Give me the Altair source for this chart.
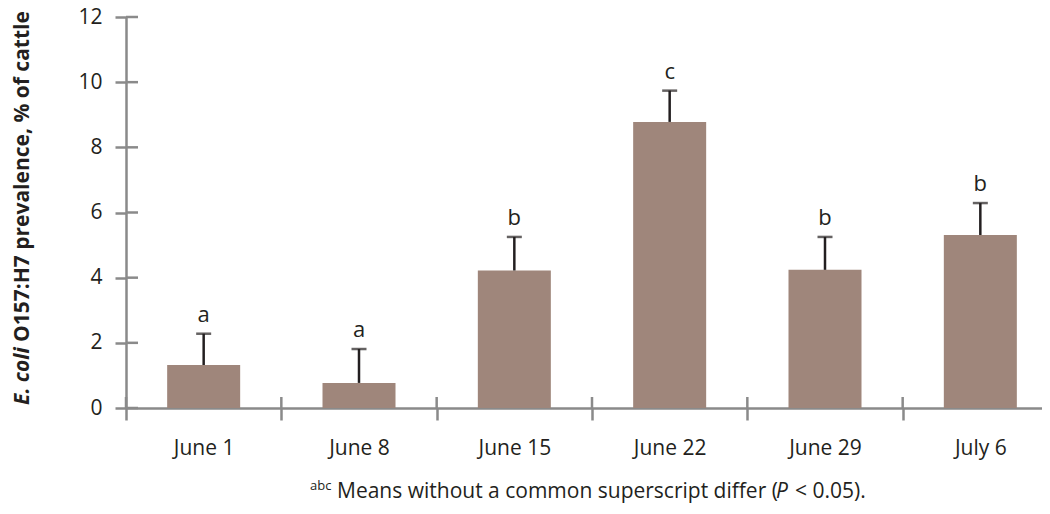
import altair as alt
import pandas as pd

dates = ["June 1", "June 8", "June 15", "June 22", "June 29", "July 6"]
prevalence = [1.32, 0.77, 4.22, 8.78, 4.24, 5.31]
upper = [2.28, 1.81, 5.25, 9.74, 5.25, 6.29]
letters = ["a", "a", "b", "c", "b", "b"]
yticks = [0, 2, 4, 6, 8, 10, 12]

FONT = "Open Sans"
TXT = "#231f20"
AX = "#8a8a8a"
BAR = "#9f867b"

df = pd.DataFrame({"date": dates, "prev": prevalence, "up": upper, "let": letters})
tick_df = pd.DataFrame({"v": yticks})

xscale = alt.Scale(domain=dates, range=[0, 932], paddingInner=0, paddingOuter=0)
yscale = alt.Scale(domain=[0, 12], nice=False)

base = alt.Chart(df)

bars = base.mark_bar(color=BAR, width=alt.RelativeBandSize(0.47)).encode(
    x=alt.X("date:N", sort=dates, scale=xscale,
            axis=alt.Axis(title=None, labelFont=FONT, labelFontSize=21, labelColor=TXT,
                          labelAngle=0, labelPadding=17, tickSize=12, tickWidth=2.5,
                          tickColor=AX, domainColor=AX, domainWidth=2.5, tickBand="extent",
                          grid=False)),
    y=alt.Y("prev:Q", scale=yscale,
            axis=alt.Axis(title=None, values=yticks, labelFont=FONT, labelFontSize=21,
                          labelColor=TXT, labelPadding=13, tickSize=11, tickWidth=2.5,
                          tickColor=AX, domainColor=AX, domainWidth=2.5, grid=False)),
)

err = base.mark_rule(color=TXT, strokeWidth=2.5).encode(
    x=alt.X("date:N", sort=dates), y="prev:Q", y2="up:Q")
caps = base.mark_tick(color=TXT, thickness=2.5, size=15).encode(
    x=alt.X("date:N", sort=dates), y="up:Q")
labs = base.mark_text(font=FONT, fontSize=22, color=TXT, dy=-12, baseline="alphabetic").encode(
    x=alt.X("date:N", sort=dates), y="up:Q", text="let:N")

# upward halves of the x-axis crossing ticks
xt_up = base.mark_rule(color=AX, strokeWidth=2.5).encode(
    x=alt.X("date:N", sort=dates, bandPosition=0), y=alt.value(380), y2=alt.value(391))
# inward halves of the y-axis crossing ticks
yt_in = alt.Chart(tick_df).mark_rule(color=AX, strokeWidth=2.5).encode(
    y="v:Q", x=alt.value(0), x2=alt.value(12))

t1 = alt.Chart(pd.DataFrame({"t": ["E. coli"]})).mark_text(
    font=FONT, fontSize=21, fontWeight="bold", fontStyle="italic", color=TXT,
    angle=270, align="left", baseline="alphabetic").encode(
    x=alt.value(-97), y=alt.value(388), text="t:N")
t2 = alt.Chart(pd.DataFrame({"t": ["O157:H7 prevalence, % of cattle"]})).mark_text(
    font=FONT, fontSize=21, fontWeight="bold", color=TXT,
    angle=270, align="left", baseline="alphabetic").encode(
    x=alt.value(-97), y=alt.value(325), text="t:N")

n1 = alt.Chart(pd.DataFrame({"t": ["abc"]})).mark_text(
    font=FONT, fontSize=13, color=TXT, align="left", baseline="alphabetic").encode(
    x=alt.value(184), y=alt.value(473), text="t:N")
n2 = alt.Chart(pd.DataFrame({"t": ["Means without a common superscript differ ("]})).mark_text(
    font=FONT, fontSize=21, color=TXT, align="left", baseline="alphabetic").encode(
    x=alt.value(211), y=alt.value(481), text="t:N")
n3 = alt.Chart(pd.DataFrame({"t": ["P"]})).mark_text(
    font=FONT, fontSize=21, fontStyle="italic", color=TXT, align="left", baseline="alphabetic").encode(
    x=alt.value(650), y=alt.value(481), text="t:N")
n4 = alt.Chart(pd.DataFrame({"t": ["< 0.05)."]})).mark_text(
    font=FONT, fontSize=21, color=TXT, align="left", baseline="alphabetic").encode(
    x=alt.value(669), y=alt.value(481), text="t:N")

chart = alt.layer(bars, err, caps, labs, xt_up, yt_in, t1, t2, n1, n2, n3, n4).properties(
    width=916, height=391,
    autosize=alt.AutoSizeParams(type="none"),
    padding={"left": 118, "top": 9, "right": 0, "bottom": 98},
    background="white",
).configure_view(stroke=None)

chart.save("out.html", embed_options={"renderer": "svg", "actions": False})
